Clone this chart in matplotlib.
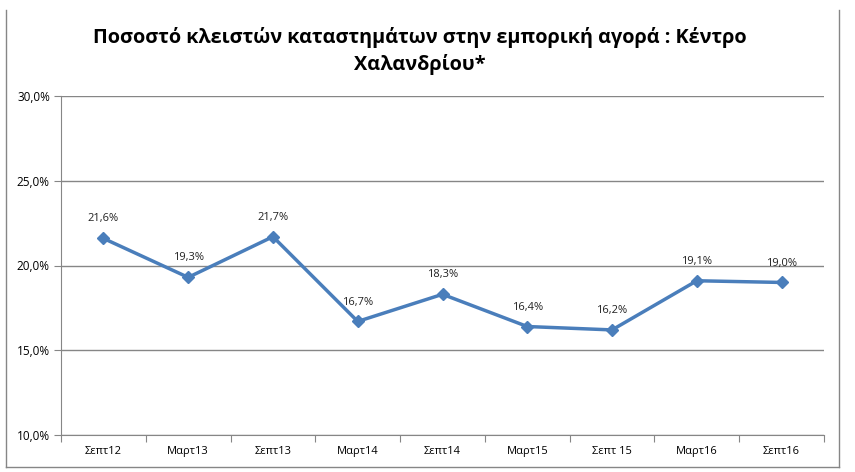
import matplotlib.pyplot as plt
from matplotlib.lines import Line2D
from matplotlib.ticker import FuncFormatter, FixedLocator, NullFormatter

# δεδομένα
periods = ['Σεπτ12', 'Μαρτ13', 'Σεπτ13', 'Μαρτ14', 'Σεπτ14',
           'Μαρτ15', 'Σεπτ 15', 'Μαρτ16', 'Σεπτ16']
closed_pct = [21.6, 19.3, 21.7, 16.7, 18.3, 16.4, 16.2, 19.1, 19.0]
y_ticks = [10, 15, 20, 25, 30]

title = 'Ποσοστό κλειστών καταστημάτων στην εμπορική αγορά : Κέντρο\nΧαλανδρίου*'

plt.rcParams['font.family'] = ['Open Sans', 'DejaVu Sans']

W, H = 855, 472
fig = plt.figure(figsize=(W / 100, H / 100), dpi=100)
ax = fig.add_axes([61 / W, 1 - 435 / H, (824 - 61) / W, (435 - 96) / H])

x = list(range(len(periods)))
ax.plot(x, closed_pct, color='#4A7EBB', lw=2.5, marker='D', ms=6,
        markeredgecolor='#4A7EBB', zorder=3)
for xi, v in zip(x, closed_pct):
    ax.annotate(f'{v:.1f}%'.replace('.', ','), (xi, v), xytext=(0, 10),
                textcoords='offset points', ha='center', va='bottom',
                fontsize=8, color='#222222')

ax.set_xlim(-0.5, len(periods) - 0.5)
ax.set_ylim(10, 30)
ax.set_yticks(y_ticks)
ax.yaxis.set_major_formatter(FuncFormatter(lambda v, p: f'{v:.1f}%'.replace('.', ',')))
ax.grid(axis='y', color='#868686', lw=1)
ax.set_axisbelow(True)

# x: υποδιαιρέσεις ανάμεσα στις κατηγορίες
ax.xaxis.set_major_locator(FixedLocator([i - 0.5 for i in range(len(periods) + 1)]))
ax.xaxis.set_major_formatter(NullFormatter())
ax.xaxis.set_minor_locator(FixedLocator(x))
ax.set_xticklabels(periods, minor=True)
ax.tick_params(axis='x', which='major', length=5, color='#868686', direction='out')
ax.tick_params(axis='x', which='minor', length=0, pad=8, labelsize=8)
ax.tick_params(axis='y', length=5, color='#868686', labelsize=8.5, pad=3)

for s in ['top', 'right']:
    ax.spines[s].set_visible(False)
for s in ['left', 'bottom']:
    ax.spines[s].set_color('#868686')

fig.text(420 / W, 1 - 51 / H, title, ha='center', va='center',
         fontsize=14.3, fontweight='bold', linespacing=1.35)

# πλαίσιο γραφήματος
for xs, ys in [([6, 6], [10, 467]), ([839, 839], [10, 467]), ([6, 839], [467, 467])]:
    fig.add_artist(Line2D([v / W for v in xs], [1 - v / H for v in ys],
                          color='#868686', lw=1))

fig.savefig('out.png', dpi=100)
